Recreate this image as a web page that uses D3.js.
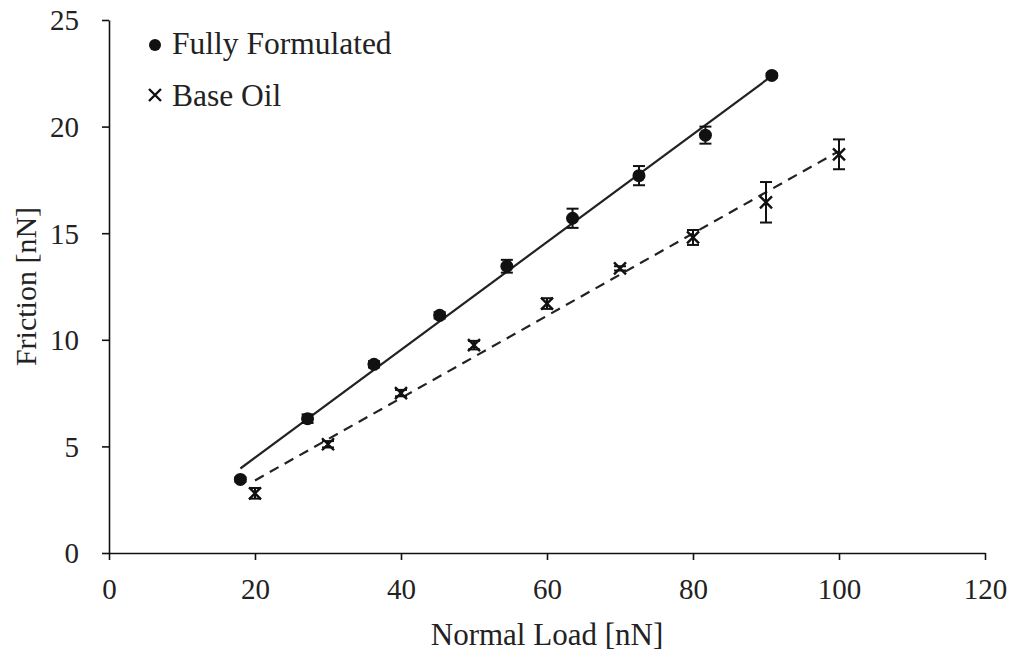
<!DOCTYPE html>
<html>
<head>
<meta charset="utf-8">
<script src="https://cdn.jsdelivr.net/npm/d3@7"></script>
<style>
  body { margin: 0; background: #fff; }
</style>
</head>
<body>
<div id="chart"></div>
<script>
var svgWidth = 1011;
var svgHeight = 655;
var serif = "'Liberation Serif', 'Times New Roman', Tinos, 'DejaVu Serif', serif";

var margin = { top: 20, right: 26, bottom: 102, left: 109 };
var width = svgWidth - margin.left - margin.right;
var height = svgHeight - margin.top - margin.bottom;

// Fully Formulated
var ffLoad = [18.0, 27.2, 36.3, 45.3, 54.5, 63.5, 72.6, 81.7, 90.8];
var ffFriction = [3.45, 6.3, 8.85, 11.15, 13.45, 15.7, 17.7, 19.6, 22.4];
var ffError = [0.1, 0.2, 0.15, 0.15, 0.3, 0.45, 0.45, 0.4, 0.1];

// Base Oil
var boLoad = [20, 30, 40, 50, 60, 70, 80, 90, 100];
var boFriction = [2.8, 5.1, 7.5, 9.75, 11.7, 13.35, 14.8, 16.45, 18.7];
var boError = [0.25, 0.15, 0.15, 0.2, 0.25, 0.1, 0.35, 0.95, 0.7];

var xTicks = [0, 20, 40, 60, 80, 100, 120];
var yTicks = [0, 5, 10, 15, 20, 25];

var svg = d3.select("#chart")
  .append("svg")
  .attr("width", svgWidth)
  .attr("height", svgHeight)
  .style("font-family", serif);

var chartGroup = svg.append("g")
  .attr("transform", `translate(${margin.left}, ${margin.top})`);

var xLinearScale = d3.scaleLinear().domain([0, 120]).range([0, width]);
var yLinearScale = d3.scaleLinear().domain([0, 25]).range([height, 0]);

var bottomAxis = d3.axisBottom(xLinearScale).tickValues(xTicks).tickSize(7).tickSizeOuter(0);
var leftAxis = d3.axisLeft(yLinearScale).tickValues(yTicks).tickSize(7).tickSizeOuter(0);

var xAxisG = chartGroup.append("g")
  .attr("transform", `translate(0, ${height})`)
  .call(bottomAxis);
var yAxisG = chartGroup.append("g").call(leftAxis);

[xAxisG, yAxisG].forEach(function(g) {
  g.attr("font-family", null).attr("font-size", null);
  g.select(".domain").attr("stroke", "#111").attr("stroke-width", 1.6);
  g.selectAll(".tick line").attr("stroke", "#111").attr("stroke-width", 1.6);
  g.selectAll(".tick text")
    .style("font-family", serif)
    .attr("font-size", 29)
    .attr("fill", "#222");
});
xAxisG.selectAll(".tick text").attr("y", 46).attr("dy", 0);
yAxisG.selectAll(".tick text").attr("x", -30).attr("dy", "0.34em");

function fit(xs, ys) {
  var mx = d3.mean(xs), my = d3.mean(ys);
  var sxy = d3.sum(xs, (x, i) => (x - mx) * (ys[i] - my));
  var sxx = d3.sum(xs, x => (x - mx) * (x - mx));
  var b = sxy / sxx;
  return { slope: b, intercept: my - b * mx };
}

function drawSeries(xs, ys, es, dashed, marker) {
  var f = fit(xs, ys);
  var x0 = d3.min(xs), x1 = d3.max(xs);
  chartGroup.append("line")
    .attr("x1", xLinearScale(x0))
    .attr("y1", yLinearScale(f.intercept + f.slope * x0))
    .attr("x2", xLinearScale(x1))
    .attr("y2", yLinearScale(f.intercept + f.slope * x1))
    .attr("stroke", "#222")
    .attr("stroke-width", 2.2)
    .attr("stroke-dasharray", dashed ? "10,7" : null);

  var data = xs.map((x, i) => ({ x: x, y: ys[i], e: es[i] }));
  var eg = chartGroup.append("g").selectAll("g")
    .data(data).enter().append("g")
    .attr("stroke", "#111").attr("stroke-width", 2);
  eg.append("line")
    .attr("x1", d => xLinearScale(d.x)).attr("x2", d => xLinearScale(d.x))
    .attr("y1", d => yLinearScale(d.y - d.e)).attr("y2", d => yLinearScale(d.y + d.e));
  eg.append("line")
    .attr("x1", d => xLinearScale(d.x) - 6).attr("x2", d => xLinearScale(d.x) + 6)
    .attr("y1", d => yLinearScale(d.y - d.e)).attr("y2", d => yLinearScale(d.y - d.e));
  eg.append("line")
    .attr("x1", d => xLinearScale(d.x) - 6).attr("x2", d => xLinearScale(d.x) + 6)
    .attr("y1", d => yLinearScale(d.y + d.e)).attr("y2", d => yLinearScale(d.y + d.e));

  if (marker === "circle") {
    chartGroup.append("g").selectAll("circle")
      .data(data).enter().append("circle")
      .attr("cx", d => xLinearScale(d.x))
      .attr("cy", d => yLinearScale(d.y))
      .attr("r", 6.5)
      .attr("fill", "#111");
  } else {
    chartGroup.append("g").selectAll("path")
      .data(data).enter().append("path")
      .attr("d", function(d) {
        var cx = xLinearScale(d.x), cy = yLinearScale(d.y), s = 6;
        return `M${cx - s},${cy - s}L${cx + s},${cy + s}M${cx - s},${cy + s}L${cx + s},${cy - s}`;
      })
      .attr("stroke", "#111")
      .attr("stroke-width", 2.4)
      .attr("fill", "none");
  }
}

drawSeries(ffLoad, ffFriction, ffError, false, "circle");
drawSeries(boLoad, boFriction, boError, true, "cross");

// legend
var legend = svg.append("g").attr("fill", "#222");
legend.append("circle").attr("cx", 155).attr("cy", 45).attr("r", 6).attr("fill", "#111");
legend.append("text").attr("x", 172).attr("y", 54).attr("font-size", 31.5).text("Fully Formulated");
legend.append("path")
  .attr("d", "M149,89L161,101M149,101L161,89")
  .attr("stroke", "#111").attr("stroke-width", 2.4);
legend.append("text").attr("x", 172).attr("y", 106).attr("font-size", 31.5).text("Base Oil");

// axis titles
chartGroup.append("text")
  .attr("transform", "rotate(-90)")
  .attr("x", 0 - (height / 2))
  .attr("y", 0 - margin.left + 36)
  .attr("text-anchor", "middle")
  .attr("font-size", 30)
  .attr("fill", "#222")
  .text("Friction [nN]");

chartGroup.append("text")
  .attr("x", width / 2)
  .attr("y", height + 92)
  .attr("text-anchor", "middle")
  .attr("font-size", 31)
  .attr("fill", "#222")
  .text("Normal Load [nN]");
</script>
</body>
</html>
